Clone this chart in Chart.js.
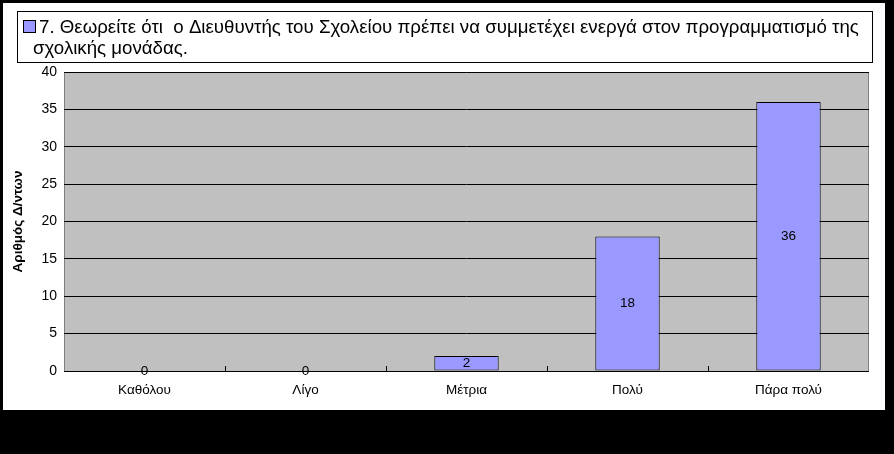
<!DOCTYPE html>
<html>
<head>
<meta charset="utf-8">
<script src="https://cdn.jsdelivr.net/npm/chart.js@4/dist/chart.umd.min.js"></script>
<style>
  html, body { margin: 0; padding: 0; background: #000; }
  body { width: 894px; height: 454px; position: relative; overflow: hidden; }
  #frame { position: absolute; left: 3px; top: 3px; width: 882px; height: 407px; background: #fff; }
</style>
</head>
<body>
<div id="frame"><canvas id="chart" width="882" height="407"></canvas></div>
<script>
// Question 7 bar chart — counts of answers per category.

const categories = ['Καθόλου', 'Λίγο', 'Μέτρια', 'Πολύ', 'Πάρα πολύ'];
const counts = [0, 0, 2, 18, 36];
const legendLines = [
  '7. Θεωρείτε ότι  ο Διευθυντής του Σχολείου πρέπει να συμμετέχει ενεργά στον προγραμματισμό της',
  'σχολικής μονάδας.'
];
const yTitle = 'Αριθμός Δ/ντων';

const FONT = "'Liberation Sans', Arial, sans-serif";
const BAR = '#9999ff';
const PLOT_BG = '#c0c0c0';

// gray plot background + category tick marks on the x axis
const plotArea = {
  id: 'plotArea',
  beforeDraw(chart) {
    const { ctx, chartArea: a } = chart;
    ctx.save();
    ctx.fillStyle = PLOT_BG;
    ctx.fillRect(a.left, a.top, a.right - a.left, a.bottom - a.top);
    ctx.strokeStyle = '#808080';
    ctx.lineWidth = 1;
    ctx.strokeRect(a.left + 0.5, a.top + 0.5, a.right - a.left - 1, a.bottom - a.top);
    ctx.restore();
  },
  afterDraw(chart) {
    const { ctx, chartArea: a } = chart;
    const x = chart.scales.x;
    ctx.save();
    ctx.strokeStyle = '#000';
    ctx.lineWidth = 1;
    for (let i = 1; i < categories.length; i++) {
      const px = Math.round((x.getPixelForTick(i - 1) + x.getPixelForTick(i)) / 2) + 0.5;
      ctx.beginPath();
      ctx.moveTo(px, a.bottom);
      ctx.lineTo(px, a.bottom - 5);
      ctx.stroke();
    }
    ctx.beginPath();
    ctx.moveTo(a.left, Math.round(a.bottom) + 0.5);
    ctx.lineTo(a.right, Math.round(a.bottom) + 0.5);
    ctx.stroke();
    ctx.restore();
  }
};

// value labels in the middle of each bar
const barValues = {
  id: 'barValues',
  afterDatasetsDraw(chart) {
    const { ctx } = chart;
    const meta = chart.getDatasetMeta(0);
    ctx.save();
    ctx.font = `13.5px ${FONT}`;
    ctx.fillStyle = '#000';
    ctx.textAlign = 'center';
    ctx.textBaseline = 'middle';
    meta.data.forEach((bar, i) => {
      ctx.fillText(String(counts[i]), bar.x, (bar.y + bar.base) / 2);
    });
    ctx.restore();
  }
};

// legend box with wrapped text
const boxLegend = {
  id: 'boxLegend',
  afterDraw(chart) {
    const { ctx } = chart;
    ctx.save();
    ctx.strokeStyle = '#000';
    ctx.lineWidth = 1;
    ctx.strokeRect(14.5, 8.5, 855, 51);
    ctx.fillStyle = BAR;
    ctx.fillRect(20, 17, 13, 13);
    ctx.strokeRect(20.5, 17.5, 12, 12);
    ctx.fillStyle = '#000';
    ctx.font = `18.7px ${FONT}`;
    ctx.textBaseline = 'alphabetic';
    ctx.fillText(legendLines[0], 36, 30);
    ctx.fillText(legendLines[1], 30, 51);
    ctx.restore();
  }
};

new Chart(document.getElementById('chart'), {
  type: 'bar',
  data: {
    labels: categories,
    datasets: [{
      label: legendLines.join(' '),
      data: counts,
      backgroundColor: BAR,
      borderColor: '#000',
      borderWidth: 1,
      borderSkipped: false,
      barPercentage: 0.4,
      categoryPercentage: 1,
    }],
  },
  options: {
    responsive: false,
    animation: false,
    devicePixelRatio: 1,
    layout: { padding: { left: 0, top: 69, right: 16, bottom: 0 } },
    plugins: {
      legend: { display: false },
      tooltip: { enabled: false },
    },
    scales: {
      x: {
        grid: { display: false },
        border: { display: false },
        ticks: { color: '#000', font: { family: FONT, size: 13.5 }, padding: 3 },
        afterFit: s => { s.height = 39; },
      },
      y: {
        min: 0,
        max: 40,
        ticks: { stepSize: 5, color: '#000', font: { family: FONT, size: 14 }, padding: 7 },
        grid: { color: '#000', drawTicks: false },
        border: { display: false },
        title: {
          display: true,
          text: yTitle,
          color: '#000',
          font: { family: FONT, size: 13.5, weight: 'bold' },
          padding: { top: 7, bottom: 0 },
        },
        afterFit: s => { s.width = 61; },
      },
    },
  },
  plugins: [plotArea, barValues, boxLegend],
});
</script>
</body>
</html>
